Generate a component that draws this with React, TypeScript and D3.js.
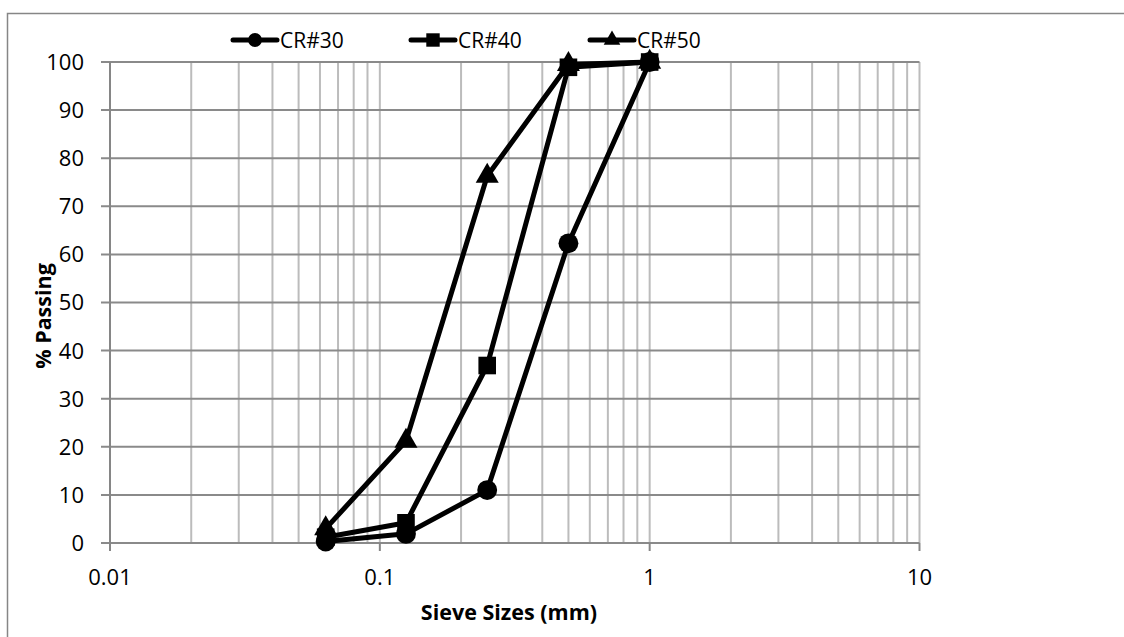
import * as d3 from "d3";

const sieveSizes = [0.063, 0.125, 0.25, 0.5, 1];
const cr30 = [0.3, 1.9, 11.0, 62.3, 100];
const cr40 = [1.2, 4.2, 36.9, 98.9, 100];
const cr50 = [3.0, 21.2, 76.3, 99.5, 100];
const seriesNames = ["CR#30", "CR#40", "CR#50"];
const xTickLabels = ["0.01", "0.1", "1", "10"];
const yTicks = [0, 10, 20, 30, 40, 50, 60, 70, 80, 90, 100];

const W = 1124;
const H = 637;
const plot = { left: 110, right: 919.5, top: 62, bottom: 543 };
const font = "'Open Sans', Lato, sans-serif";

const shapes = [d3.symbolCircle, d3.symbolSquare, d3.symbolTriangle];
const markerSize = [310, 310, 230];
const legendSize = [150, 180, 120];

export default function App() {
  const x = d3.scaleLog().domain([0.01, 10]).range([plot.left, plot.right]);
  const y = d3.scaleLinear().domain([0, 100]).range([plot.bottom, plot.top]);

  // minor + major vertical gridlines, 1..9 per decade
  const minorX: number[] = [];
  [0.01, 0.1, 1].forEach((d) => {
    for (let k = 1; k <= 9; k++) minorX.push(d * k);
  });
  minorX.push(10);

  const all = [cr30, cr40, cr50];
  const line = d3
    .line<[number, number]>()
    .x((d) => x(d[0]))
    .y((d) => y(d[1]));

  const legendX = [233, 411, 590];

  return (
    <svg
      width={W}
      height={H}
      style={{ position: "absolute", left: 0, top: 0, background: "#fff" }}
      fontFamily={font}
    >
      <rect x={7.5} y={13.5} width={1300} height={800} fill="#fff" stroke="#868686" strokeWidth={1.5} />

      {minorX.map((v, i) => (
        <line
          key={"vx" + i}
          x1={x(v)}
          x2={x(v)}
          y1={plot.top}
          y2={plot.bottom}
          stroke="#bcbcbc"
          strokeWidth={2}
        />
      ))}
      {yTicks.map((t) => (
        <line
          key={"hy" + t}
          x1={plot.left - 9}
          x2={plot.right}
          y1={y(t)}
          y2={y(t)}
          stroke="#8a8a8a"
          strokeWidth={2}
        />
      ))}
      <line x1={plot.left} x2={plot.left} y1={plot.top} y2={plot.bottom + 8} stroke="#868686" strokeWidth={2} />
      {[0.01, 0.1, 1, 10].map((v) => (
        <line key={"xt" + v} x1={x(v)} x2={x(v)} y1={plot.bottom} y2={plot.bottom + 8} stroke="#868686" strokeWidth={2} />
      ))}

      {yTicks.map((t) => (
        <text key={"yl" + t} x={84} y={y(t)} dy="0.36em" textAnchor="end" fontSize={22} fill="#000">
          {t}
        </text>
      ))}
      {xTickLabels.map((l) => (
        <text key={"xl" + l} x={x(+l)} y={577} dy="0.36em" textAnchor="middle" fontSize={22} fill="#000">
          {l}
        </text>
      ))}

      <text x={509} y={612} dy="0.36em" textAnchor="middle" fontSize={21.5} fontWeight="bold">
        Sieve Sizes (mm)
      </text>
      <text
        transform={`translate(43,316) rotate(-90)`}
        dy="0.36em"
        textAnchor="middle"
        fontSize={21.5}
        fontWeight="bold"
      >
        % Passing
      </text>

      {all.map((vals, si) => {
        const pts = sieveSizes.map((s, i) => [s, vals[i]] as [number, number]);
        const sym = d3.symbol(shapes[si], markerSize[si])();
        return (
          <g key={"s" + si}>
            <path d={line(pts) || ""} fill="none" stroke="#000" strokeWidth={5} strokeLinejoin="round" />
            {pts.map((p, i) => (
              <path key={i} d={sym || ""} transform={`translate(${x(p[0])},${y(p[1])})`} fill="#000" />
            ))}
          </g>
        );
      })}

      {seriesNames.map((name, si) => {
        const lx = legendX[si];
        const sym = d3.symbol(shapes[si], legendSize[si])();
        return (
          <g key={"lg" + si}>
            <line x1={lx} x2={lx + 44} y1={40} y2={40} stroke="#000" strokeWidth={5} strokeLinecap="round" />
            <path d={sym || ""} transform={`translate(${lx + 22},40)`} fill="#000" />
            <text x={lx + 47} y={40} dy="0.36em" fontSize={21}>
              {name}
            </text>
          </g>
        );
      })}
    </svg>
  );
}
